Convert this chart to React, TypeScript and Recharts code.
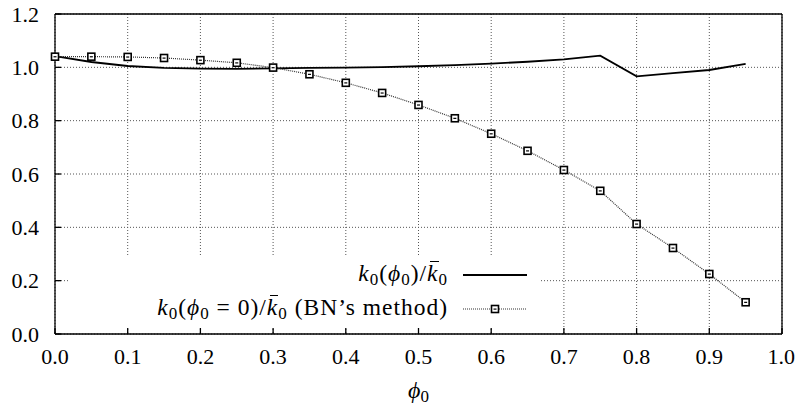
import React from "react";
import { LineChart, XAxis, YAxis, CartesianGrid, Line } from "recharts";

// phi_0 sample points and the two ratios
const phiValues = [0, 0.05, 0.1, 0.15, 0.2, 0.25, 0.3, 0.35, 0.4, 0.45, 0.5, 0.55, 0.6, 0.65, 0.7, 0.75, 0.8, 0.85, 0.9, 0.95];
const kRatio = [1.042, 1.02, 1.005, 0.998, 0.995, 0.994, 0.996, 0.998, 0.999, 1.001, 1.004, 1.008, 1.014, 1.021, 1.03, 1.044, 0.966, 0.978, 0.99, 1.013];
const bnRatio = [1.04, 1.04, 1.039, 1.035, 1.027, 1.017, 0.999, 0.974, 0.942, 0.904, 0.859, 0.809, 0.751, 0.687, 0.615, 0.537, 0.4125, 0.3225, 0.225, 0.119];

const xTicks = [0, 0.1, 0.2, 0.3, 0.4, 0.5, 0.6, 0.7, 0.8, 0.9, 1.0];
const yTicks = [0, 0.2, 0.4, 0.6, 0.8, 1.0, 1.2];

const data = phiValues.map((p, i) => ({ phi: p, k: kRatio[i], bn: bnRatio[i] }));

const FONT = "Liberation Serif";
const fmt = (v: number) => v.toFixed(1);

const SquareDot = ({ cx, cy }: { cx?: number; cy?: number }) => {
  if (cx == null || cy == null) return null;
  return (
    <g>
      <rect x={cx - 3.5} y={cy - 3.5} width={7} height={7} fill="#fff" stroke="#000" strokeWidth={1.6} />
      <rect x={cx - 1.5} y={cy - 0.5} width={3} height={1.2} fill="#000" />
    </g>
  );
};

const PhiLabel = (props: any) => {
  const vb = props.viewBox || { x: 55, y: 334, width: 727, height: 75 };
  return (
    <text x={vb.x + vb.width / 2} y={vb.y + 64} textAnchor="middle" fontFamily={FONT} fontSize={24} fill="#000">
      <tspan fontStyle="italic">ϕ</tspan>
      <tspan fontSize={17} dy={4}>0</tspan>
    </text>
  );
};

// html pieces for the key text
const S = ({ children }: { children: React.ReactNode }) => (
  <span style={{ fontSize: 17, position: "relative", top: 4 }}>{children}</span>
);
const I = ({ children }: { children: React.ReactNode }) => <span style={{ fontStyle: "italic" }}>{children}</span>;
const KBar = () => (
  <span style={{ position: "relative", fontStyle: "italic" }}>
    k
    <span style={{ position: "absolute", left: 3, right: 0, top: 1, borderTop: "1.3px solid #000" }} />
  </span>
);

const keyText: React.CSSProperties = {
  position: "absolute",
  left: 0,
  width: 380,
  textAlign: "right",
  whiteSpace: "nowrap",
  fontFamily: FONT,
  fontSize: 23.5,
  lineHeight: "23.5px",
  letterSpacing: 1,
  color: "#000",
};

const KeyBox = () => (
  <div style={{ position: "absolute", left: 68, top: 257, width: 472, height: 70, background: "#fff" }}>
    <div style={{ ...keyText, top: 5 }}>
      <I>k</I><S>0</S>(<I>ϕ</I><S>0</S>)/<KBar /><S>0</S>
    </div>
    <div style={{ ...keyText, top: 39 }}>
      <I>k</I><S>0</S>(<I>ϕ</I><S>0</S> = 0)/<KBar /><S>0</S> (BN’s method)
    </div>
    <svg width={472} height={70} style={{ position: "absolute", left: 0, top: 0 }}>
      <line x1={395} x2={459} y1={18} y2={18} stroke="#000" strokeWidth={1.8} />
      <line x1={395} x2={459} y1={52} y2={52} stroke="#333" strokeWidth={1.2} strokeDasharray="1 1" />
      <SquareDot cx={427} cy={52} />
    </svg>
  </div>
);

export default function App() {
  return (
    <div style={{ position: "absolute", left: 0, top: 0, width: 795, height: 409, background: "#fff", fontFamily: FONT }}>
      <LineChart width={795} height={409} data={data} margin={{ top: 13, right: 12, bottom: 0, left: 0 }}>
        <CartesianGrid stroke="#555" strokeDasharray="1 2" strokeWidth={1} />
        <XAxis
          dataKey="phi"
          type="number"
          domain={[0, 1]}
          ticks={xTicks}
          tickFormatter={fmt}
          height={75}
          tickSize={-6}
          tickMargin={20}
          stroke="#000"
          strokeWidth={1.3}
          tick={{ fill: "#000", fontFamily: FONT, fontSize: 22 }}
          label={<PhiLabel />}
        />
        <XAxis xAxisId="top" orientation="top" type="number" domain={[0, 1]} ticks={xTicks} tick={false} height={1} tickSize={-6} stroke="#000" strokeWidth={1.3} />
        <YAxis
          type="number"
          domain={[0, 1.2]}
          ticks={yTicks}
          tickFormatter={fmt}
          width={55}
          tickSize={-6}
          tickMargin={22}
          stroke="#000"
          strokeWidth={1.3}
          tick={{ fill: "#000", fontFamily: FONT, fontSize: 22 }}
        />
        <YAxis yAxisId="right" orientation="right" type="number" domain={[0, 1.2]} ticks={yTicks} tick={false} width={1} tickSize={-6} stroke="#000" strokeWidth={1.3} />
        <Line dataKey="k" type="linear" stroke="#000" strokeWidth={1.8} dot={false} isAnimationActive={false} />
        <Line
          dataKey="bn"
          type="linear"
          stroke="#333"
          strokeWidth={1.2}
          strokeDasharray="1 1"
          dot={(p: any) => <SquareDot key={p.index} cx={p.cx} cy={p.cy} />}
          isAnimationActive={false}
        />
      </LineChart>
      <KeyBox />
    </div>
  );
}
